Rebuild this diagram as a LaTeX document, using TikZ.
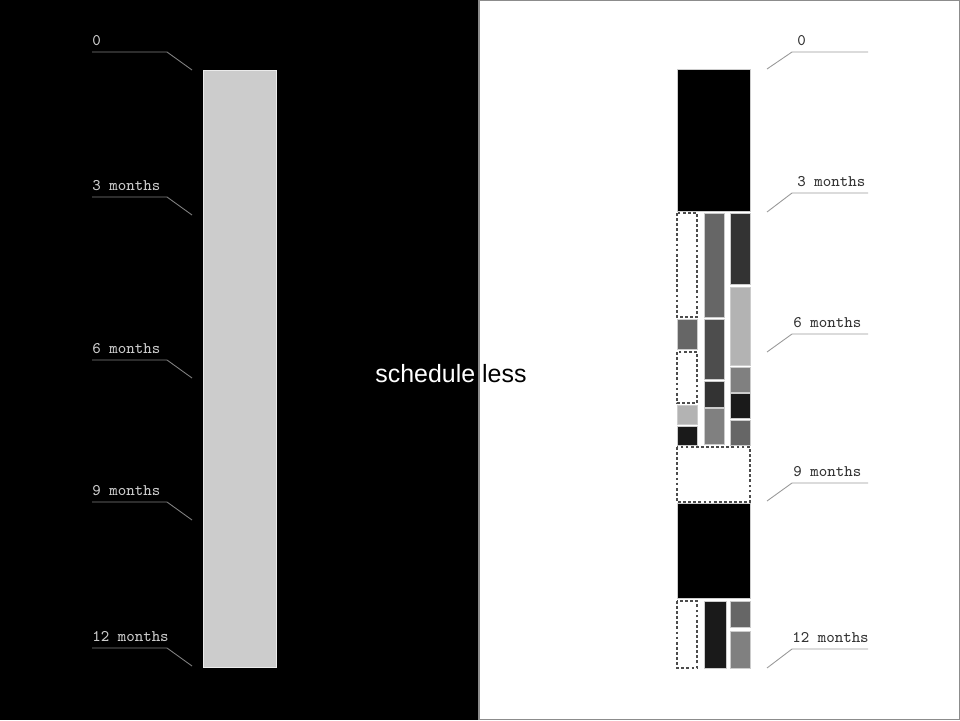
\documentclass[tikz,border=0pt]{standalone}
\usepackage{fontspec}
\setmainfont{Liberation Sans}
\usetikzlibrary{positioning}

\begin{document}
\begin{tikzpicture}[x=0.02cm,y=-0.02cm,
  blk/.style={draw=black!20,line width=0.4pt},
  gapbox/.style={draw=black!70,line width=0.8pt,dash pattern=on 1.6pt off 1.3pt},
  lblleft/.style={font=\ttfamily\fontsize{9.2}{10}\selectfont,text=black!20,anchor=base west,inner sep=0pt},
  lblright/.style={font=\ttfamily\fontsize{9.2}{10}\selectfont,text=black!80,anchor=base west,inner sep=0pt},
  leadleft/.style={draw=black!50,line width=0.5pt},
  leadright/.style={draw=black!40,line width=0.5pt}]
  \useasboundingbox (0,0) rectangle (960,720);

  % Backgrounds
  \fill[black] (0,0) rectangle (479,720);
  \draw[fill=white,draw=black!45,line width=0.6pt] (479,0.5) rectangle (959.5,719.5);

  % Left side: one long block
  \draw[fill=black!20,draw=black!8,line width=0.5pt] (203,70) rectangle (276,667);

  % Left ticks
  \foreach \txt/\ly/\ty [count=\i] in {0/52/70,3 months/197/215,6 months/360/378,9 months/502/520,12 months/648/666} {
    \node[lblleft] (ml\i) at (92,\ly-7) {\txt};
    \coordinate (kl\i) at (167,\ly);
    \coordinate (tl\i) at (192,\ty);
    \draw[leadleft] (92,\ly) -- (kl\i) -- (tl\i);
  }

  % Right side: top and middle black blocks
  \draw[blk,fill=black] (677,69) rectangle (750,211);
  \draw[blk,fill=black] (677,503) rectangle (750,598);

  % Column 1
  \foreach \ya/\yb/\c in {319/349/66,405/424/B3,426/445/1A} {
    \definecolor{cc}{HTML}{\c\c\c}
    \draw[blk,fill=cc] (677,\ya) rectangle (697,\yb);
  }
  \draw[gapbox] (677,213) rectangle (697,317);
  \draw[gapbox] (677,352) rectangle (697,403);

  % Column 2
  \foreach \ya/\yb/\c in {213/317/66,319/379/4D,381/407/33,408/444/80} {
    \definecolor{cc}{HTML}{\c\c\c}
    \draw[blk,fill=cc] (704,\ya) rectangle (724,\yb);
  }

  % Column 3
  \foreach \ya/\yb/\c in {213/284/33,287/365/B3,367/392/80,393/418/1A,420/445/66} {
    \definecolor{cc}{HTML}{\c\c\c}
    \draw[blk,fill=cc] (730,\ya) rectangle (750,\yb);
  }

  % Free slot
  \draw[gapbox] (677,447) rectangle (750,502);

  % Bottom row
  \draw[gapbox] (677,601) rectangle (697,668);
  \draw[blk,fill={rgb,255:red,26;green,26;blue,26}] (704,601) rectangle (726,668);
  \draw[blk,fill={rgb,255:red,102;green,102;blue,102}] (730,601) rectangle (750,627);
  \draw[blk,fill={rgb,255:red,128;green,128;blue,128}] (730,631) rectangle (750,668);

  % Right ticks
  \foreach \txt/\tx/\ly/\ty [count=\i] in {0/797/52/69,3 months/797/193/212,6 months/793/334/352,9 months/793/483/501,12 months/792/649/668} {
    \node[lblright] (mr\i) at (\tx,\ly-7) {\txt};
    \coordinate (kr\i) at (792,\ly);
    \coordinate (tr\i) at (767,\ty);
    \draw[leadright] (tr\i) -- (kr\i) -- (868,\ly);
  }

  % Title
  \node[anchor=base west,inner sep=0pt,font=\fontsize{14.2}{16}\selectfont] (title) at (375,382)
    {\textcolor{white}{schedule} \textcolor{black}{less}};
\end{tikzpicture}
\end{document}
